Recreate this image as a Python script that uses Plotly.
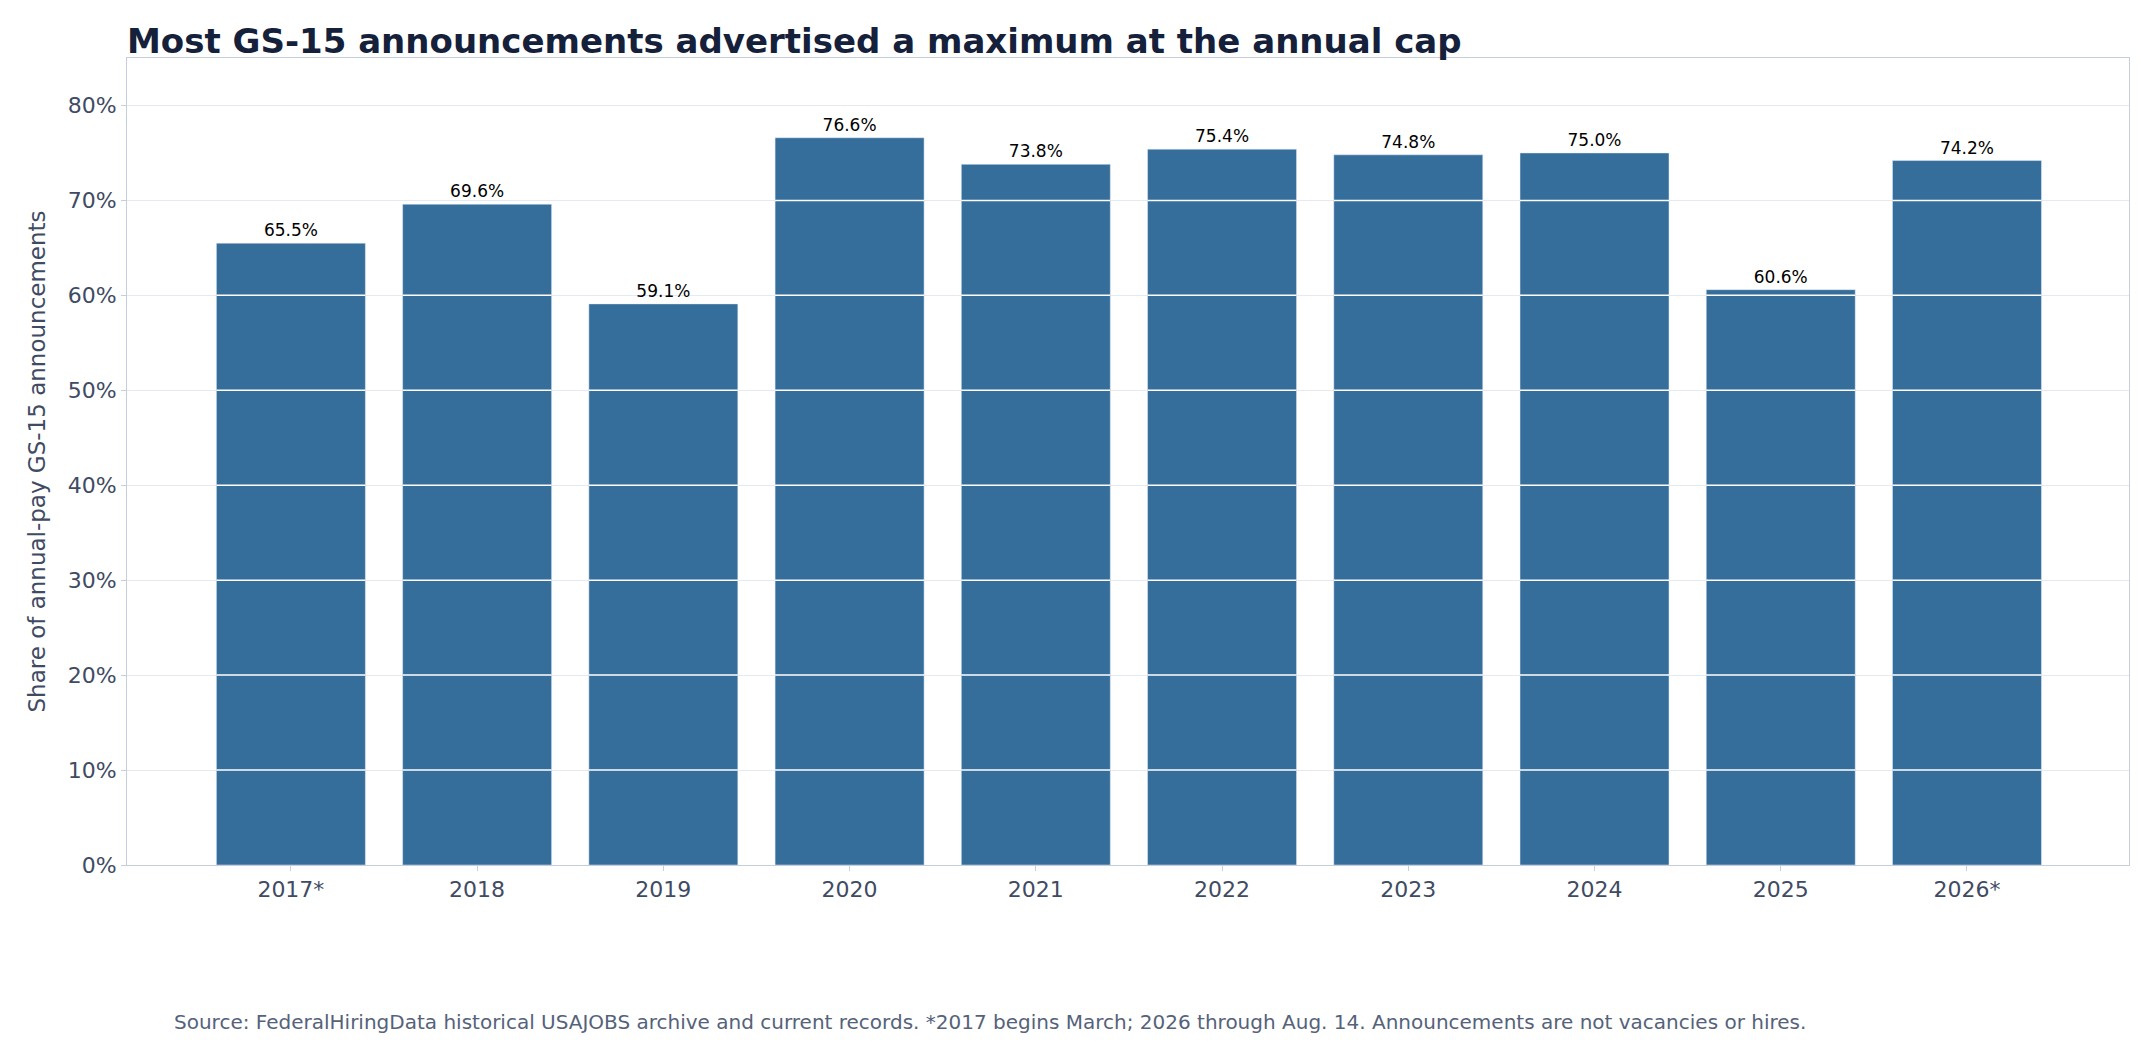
import plotly.graph_objects as go

years = ["2017*", "2018", "2019", "2020", "2021", "2022", "2023", "2024", "2025", "2026*"]
shares = [65.5, 69.6, 59.1, 76.6, 73.8, 75.4, 74.8, 75.0, 60.6, 74.2]
labels = [f"{v:.1f}%" for v in shares]
tick_vals = [0, 10, 20, 30, 40, 50, 60, 70, 80]

fig = go.Figure(go.Bar(
    x=list(range(len(years))), y=shares, marker_color="#356d9b", text=labels, textposition="outside",
    textfont=dict(size=17, color="black", family="DejaVu Sans"), cliponaxis=False, width=0.8,
))
shapes = []
for i, h in enumerate(shares):
    for v in tick_vals[1:]:
        if v < h:
            shapes.append(dict(type="line", xref="x", yref="y", x0=i - 0.4, x1=i + 0.4, y0=v, y1=v,
                               line=dict(color="white", width=1.5), layer="above"))
L, T, B = 119, 50, 191
fig.update_layout(
    width=2141, height=1048, plot_bgcolor="white", paper_bgcolor="white",
    font=dict(family="DejaVu Sans", color="#3f4b63"),
    margin=dict(l=L, r=20, t=T, b=B),
    title=dict(text="<b>Most GS-15 announcements advertised a maximum at the annual cap</b>",
               x=L/2141, xanchor="left", y=1 - 33/1048, yanchor="middle",
               font=dict(size=34, color="#15203a")),
    showlegend=False, shapes=shapes,
    xaxis=dict(range=[-0.88, 9.87], tickvals=list(range(len(years))), ticktext=years,
               showline=True, linecolor="#c5cedc", mirror=True, showgrid=False,
               ticks="outside", tickcolor="#c5cedc", tickfont=dict(size=22)),
    yaxis=dict(range=[0, 85], tickvals=tick_vals, ticktext=[f"{v}%" for v in tick_vals],
               showline=True, linecolor="#c5cedc", mirror=True, ticks="outside",
               tickcolor="#c5cedc", gridcolor="#e5eaf2", tickfont=dict(size=22),
               title=dict(text="Share of annual-pay GS-15 announcements", font=dict(size=23))),
    annotations=[dict(text="Source: FederalHiringData historical USAJOBS archive and current records. *2017 begins March; 2026 through Aug. 14. Announcements are not vacancies or hires.",
                      xref="paper", yref="paper", x=(164-L)/(2141-L-20), y=-(1021-864)/(1048-T-B),
                      xanchor="left", yanchor="middle", showarrow=False,
                      font=dict(size=20, color="#55627a"))],
)
fig.write_html("out.html")
